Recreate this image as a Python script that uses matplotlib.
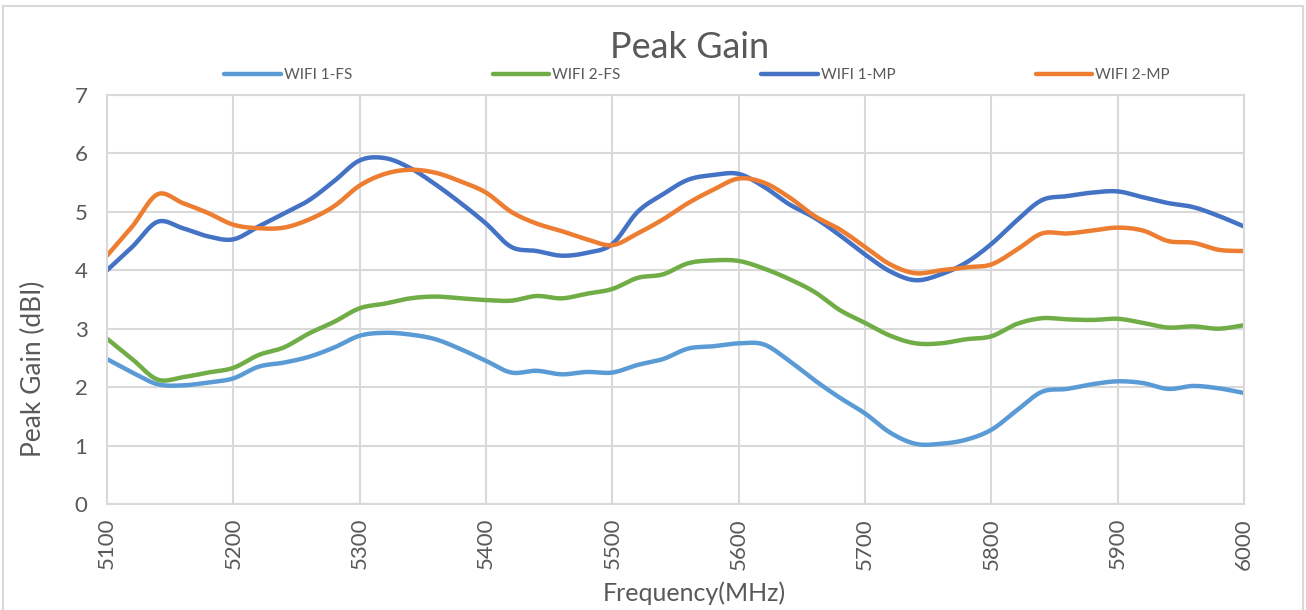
import numpy as np
import matplotlib
matplotlib.use("Agg")
from matplotlib import pyplot as plt
from matplotlib.patches import Rectangle

plt.rcParams["font.family"] = ["Lato", "DejaVu Sans"]

freq = list(range(5100, 6001, 20))

wifi1_fs = [2.48, 2.25, 2.05, 2.03, 2.08, 2.15, 2.35, 2.42, 2.52, 2.68,
            2.88, 2.93, 2.90, 2.82, 2.65, 2.45, 2.25, 2.28, 2.22, 2.26,
            2.25, 2.38, 2.48, 2.66, 2.70, 2.75, 2.73, 2.45, 2.12, 1.82,
            1.55, 1.22, 1.03, 1.03, 1.10, 1.27, 1.60, 1.92, 1.97, 2.05,
            2.10, 2.07, 1.97, 2.02, 1.98, 1.90]
wifi2_fs = [2.83, 2.48, 2.13, 2.17, 2.25, 2.33, 2.55, 2.68, 2.92, 3.12,
            3.35, 3.43, 3.52, 3.55, 3.52, 3.49, 3.48, 3.56, 3.52, 3.60,
            3.68, 3.87, 3.93, 4.12, 4.17, 4.16, 4.03, 3.85, 3.63, 3.32,
            3.10, 2.88, 2.75, 2.75, 2.82, 2.87, 3.08, 3.18, 3.16, 3.15,
            3.17, 3.10, 3.02, 3.04, 3.00, 3.06]
wifi1_mp = [4.00, 4.40, 4.83, 4.72, 4.58, 4.53, 4.75, 4.97, 5.20, 5.53,
            5.88, 5.92, 5.75, 5.47, 5.15, 4.80, 4.40, 4.33, 4.25, 4.30,
            4.45, 5.00, 5.30, 5.55, 5.63, 5.65, 5.43, 5.13, 4.90, 4.60,
            4.27, 3.98, 3.83, 3.93, 4.13, 4.45, 4.85, 5.20, 5.27, 5.33,
            5.35, 5.25, 5.15, 5.08, 4.93, 4.75]
wifi2_mp = [4.25, 4.75, 5.30, 5.15, 4.98, 4.78, 4.72, 4.73, 4.87, 5.10,
            5.45, 5.65, 5.72, 5.67, 5.52, 5.33, 5.00, 4.80, 4.67, 4.53,
            4.43, 4.63, 4.87, 5.15, 5.38, 5.57, 5.50, 5.25, 4.93, 4.70,
            4.40, 4.10, 3.95, 4.00, 4.05, 4.10, 4.35, 4.63, 4.63, 4.68,
            4.73, 4.68, 4.50, 4.47, 4.35, 4.33]

series = [("WIFI 1-FS", wifi1_fs, "#5B9BD5"),
          ("WIFI 2-FS", wifi2_fs, "#70AD47"),
          ("WIFI 1-MP", wifi1_mp, "#4472C4"),
          ("WIFI 2-MP", wifi2_mp, "#ED7D31")]


def smooth(x, y, n=20):
    # excel-like smoothed line: catmull-rom bezier between the points
    x = np.asarray(x, float)
    y = np.asarray(y, float)
    px = np.concatenate([[x[0]], x, [x[-1]]])
    py = np.concatenate([[y[0]], y, [y[-1]]])
    t = np.linspace(0, 1, n, endpoint=False)[:, None]
    xs, ys = [], []
    for i in range(1, len(px) - 2):
        p0 = np.array([px[i], py[i]])
        p3 = np.array([px[i + 1], py[i + 1]])
        p1 = p0 + (p3 - np.array([px[i - 1], py[i - 1]])) / 6
        p2 = p3 - (np.array([px[i + 2], py[i + 2]]) - p0) / 6
        b = ((1 - t) ** 3) * p0 + 3 * ((1 - t) ** 2) * t * p1 + 3 * (1 - t) * t ** 2 * p2 + t ** 3 * p3
        xs.append(b[:, 0])
        ys.append(b[:, 1])
    xs.append([x[-1]])
    ys.append([y[-1]])
    return np.concatenate(xs), np.concatenate(ys)


grey = "#595959"
gridc = "#d9d9d9"
W, H = 1306, 610

fig = plt.figure(figsize=(W / 100, H / 100), dpi=100)
ax = fig.add_axes([107 / W, 1 - 504 / H, (1244 - 107) / W, (504 - 95) / H])

for name, vals, col in series:
    sx, sy = smooth(freq, vals)
    ax.plot(sx, sy, color=col, lw=3.2, label=name, solid_capstyle="round")

ax.set_xlim(5100, 6000)
ax.set_ylim(0, 7)
ax.set_xticks(range(5100, 6001, 100))
ax.set_yticks(range(0, 8))
ax.grid(True, color=gridc, lw=1.5)
ax.set_axisbelow(True)
for s in ax.spines.values():
    s.set_color(gridc)
    s.set_linewidth(1.5)
ax.tick_params(length=0, colors=grey, labelsize=16)
ax.tick_params(axis="x", labelrotation=90, pad=10)
ax.tick_params(axis="y", pad=14)

# titles placed in figure pixels
fig.text(690 / W, 1 - 48 / H, "Peak Gain", ha="center", va="center", color=grey, fontsize=26)
fig.text(694 / W, 1 - 593 / H, "Frequency(MHz)", ha="center", va="center", color=grey, fontsize=18)
fig.text(33 / W, 1 - 369 / H, "Peak Gain (dBI)", ha="center", va="center", color=grey,
         fontsize=19, rotation=90)

fig.legend(loc="center", bbox_to_anchor=(697 / W, 1 - 75 / H), ncol=4, frameon=False,
           fontsize=11, handlelength=3.7, handletextpad=0.2, columnspacing=9.2,
           labelcolor=grey)

fig.patches.append(Rectangle((3 / W, -0.01), 1300 / W, 1 - 6 / H + 0.01, transform=fig.transFigure,
                             fill=False, edgecolor=gridc, lw=1.5))

fig.savefig("out.png", dpi=100, facecolor="white")
